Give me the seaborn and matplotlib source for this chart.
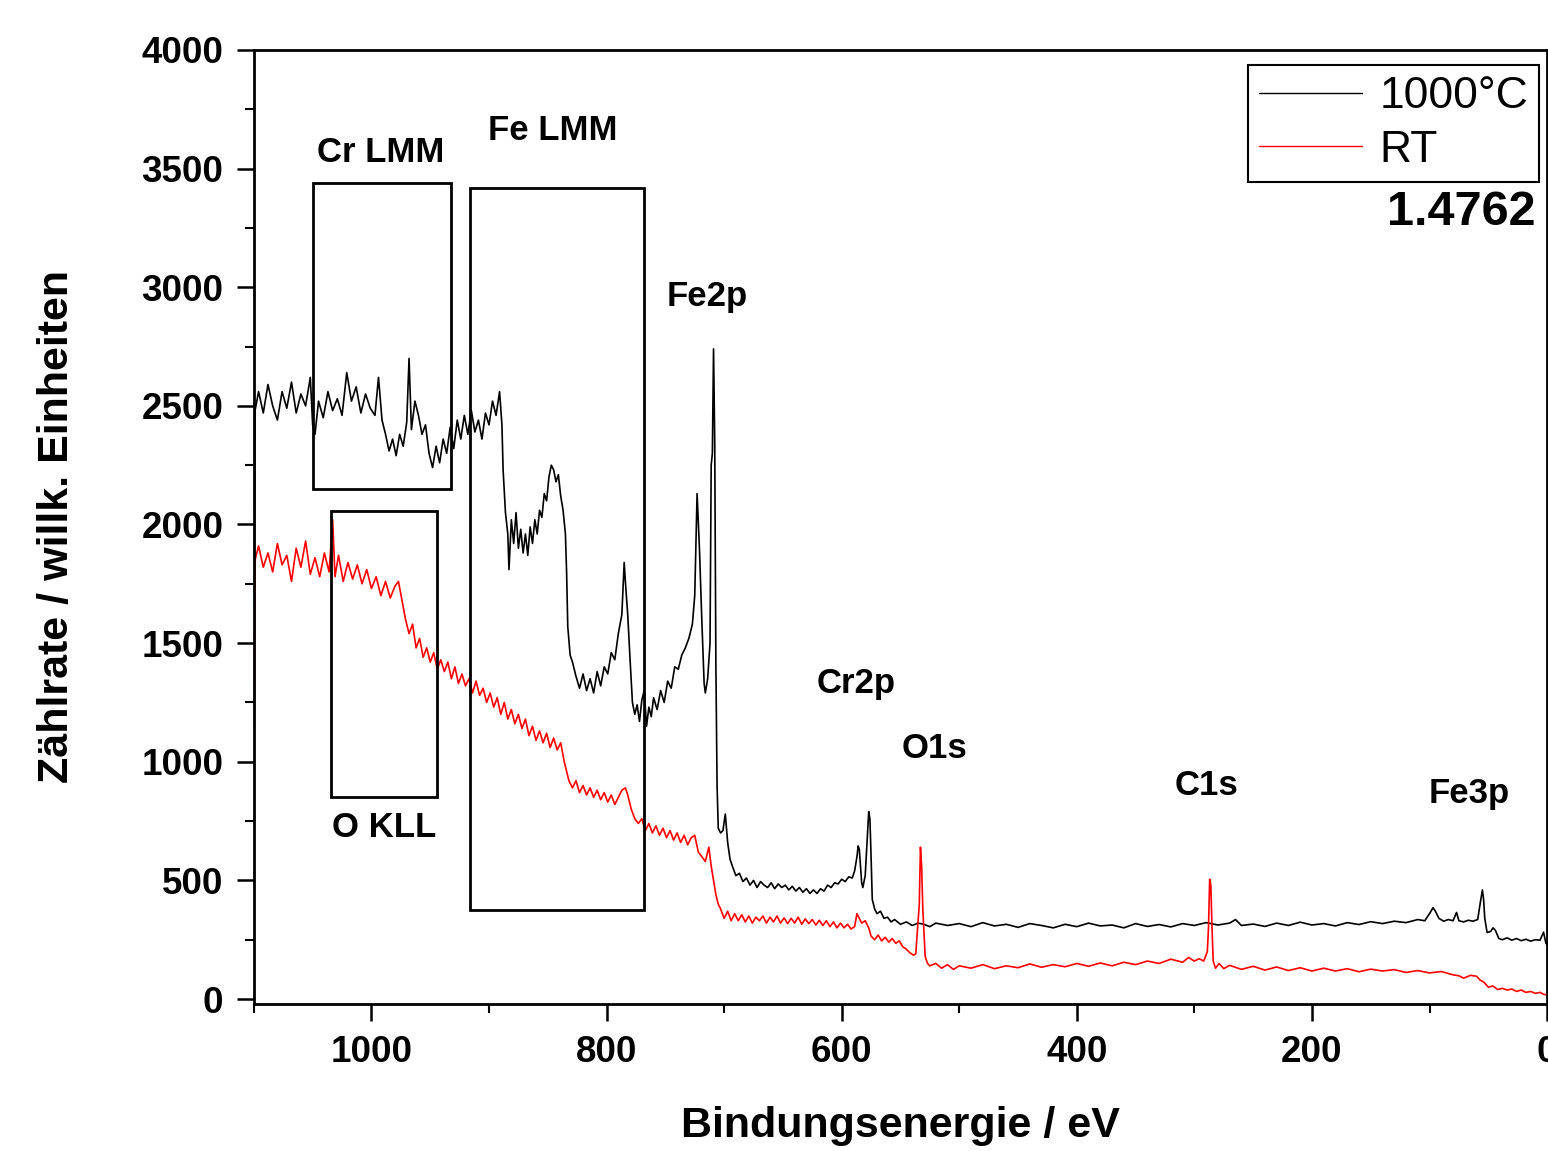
import matplotlib
matplotlib.use("Agg")
import matplotlib.pyplot as plt
from matplotlib.patches import Rectangle
from matplotlib.ticker import MultipleLocator
import pandas as pd
import seaborn as sns

# XPS survey spectra
energy_1000c = [
    1100, 1099, 1096, 1092, 1088, 1084, 1080, 1076, 1072, 1068,
    1064, 1060, 1056, 1052, 1050, 1048, 1045, 1041, 1037, 1033,
    1029, 1025, 1021, 1017, 1013, 1009, 1005, 1001, 997, 994,
    991, 988, 985, 982, 979, 976, 973, 970, 968, 966,
    963, 960, 957, 954, 951, 948, 945, 942, 939, 936,
    933, 930, 927, 924, 921, 918, 915, 912, 909, 906,
    903, 900, 897, 894, 891, 889, 888, 886, 884, 883,
    881, 879, 877, 875, 873, 871, 869, 867, 865, 863,
    861, 859, 857, 855, 853, 851, 849, 847, 845, 843,
    841, 839, 837, 835, 834, 833, 831, 829, 826, 823,
    820, 817, 814, 811, 808, 805, 802, 799, 796, 793,
    790, 787, 785, 784, 782, 780, 778, 776, 774, 772,
    770, 768, 766, 764, 762, 760, 757, 754, 751, 748,
    745, 742, 739, 736, 733, 730, 727, 725, 723, 721,
    719, 717, 716, 714, 712, 711, 710, 709, 708, 707,
    706, 705, 703, 701, 699, 697, 695, 693, 690, 687,
    684, 681, 678, 675, 672, 669, 666, 663, 660, 657,
    654, 651, 648, 645, 642, 639, 636, 633, 630, 627,
    624, 621, 618, 615, 612, 609, 606, 603, 600, 597,
    594, 591, 589, 587, 586, 585, 583, 582, 580, 578,
    577, 576, 575, 574, 572, 570, 567, 564, 561, 558,
    555, 550, 545, 540, 535, 530, 525, 520, 510, 500,
    490, 480, 470, 460, 450, 440, 430, 420, 410, 400,
    390, 380, 370, 360, 350, 340, 330, 320, 310, 300,
    290, 280, 270, 265, 260, 250, 240, 230, 220, 210,
    200, 190, 180, 170, 160, 150, 140, 130, 120, 110,
    104, 100, 97, 95, 92, 88, 84, 80, 77, 75,
    71, 67, 63, 59, 57, 55, 54, 53, 51, 48,
    46, 44, 41, 38, 34, 30, 26, 22, 18, 14,
    10, 6, 3, 1, 0,
]
counts_1000c = [
    1370, 2480, 2560, 2470, 2590, 2500, 2440, 2560, 2490, 2600,
    2470, 2550, 2500, 2620, 2420, 2380, 2520, 2450, 2560, 2480,
    2530, 2460, 2640, 2520, 2580, 2470, 2550, 2490, 2460, 2620,
    2440, 2380, 2310, 2360, 2290, 2380, 2330, 2430, 2700, 2400,
    2520, 2460, 2380, 2420, 2300, 2240, 2330, 2260, 2360, 2300,
    2410, 2320, 2440, 2360, 2460, 2380, 2480, 2390, 2440, 2360,
    2470, 2420, 2520, 2460, 2560, 2420, 2230, 2050, 1960, 1810,
    2020, 1920, 2050, 1900, 1980, 1880, 1960, 1870, 1990, 1920,
    2020, 1960, 2060, 2030, 2130, 2100, 2200, 2250, 2230, 2180,
    2210, 2120, 2060, 1960, 1800, 1570, 1450, 1420, 1360, 1310,
    1370, 1300, 1350, 1290, 1380, 1320, 1400, 1370, 1460, 1430,
    1540, 1620, 1840, 1760, 1620, 1430, 1250, 1200, 1240, 1170,
    1260, 1300, 1150, 1230, 1190, 1270, 1220, 1300, 1250, 1340,
    1310, 1400, 1390, 1450, 1480, 1520, 1580, 1700, 2130, 1900,
    1600, 1330, 1290, 1350, 1500, 2250, 2300, 2740, 2350, 1400,
    900, 720, 700, 710, 780, 660, 590, 560, 520, 530,
    495, 510, 480, 500, 470, 495, 480, 470, 490, 465,
    485, 470, 480, 460, 475, 455, 470, 450, 465, 445,
    460, 445, 465, 455, 480, 470, 490, 485, 505, 495,
    515, 510, 540, 600, 645, 630, 490, 470, 520, 700,
    790, 760, 600, 420, 380, 360, 370, 340, 345, 325,
    335, 315, 325, 310, 320, 315, 305, 320, 310, 318,
    305, 322, 308, 315, 302, 318, 310, 300, 315, 305,
    320, 308, 312, 300, 318, 306, 314, 304, 318, 310,
    322, 312, 320, 335, 310, 316, 306, 320, 310, 324,
    312, 318, 308, 322, 314, 326, 318, 328, 322, 335,
    330, 360, 385, 370, 340, 328, 335, 330, 365, 330,
    325, 332, 328, 335, 400, 460, 420, 340, 280, 285,
    300, 290, 255, 250, 258, 248, 255, 246, 252, 244,
    250, 248, 282, 235, 228,
]

energy_rt = [
    1100, 1099, 1096, 1092, 1088, 1084, 1080, 1076, 1072, 1068,
    1064, 1060, 1056, 1052, 1048, 1044, 1040, 1036, 1033, 1031,
    1028, 1024, 1020, 1016, 1012, 1008, 1004, 1000, 996, 992,
    988, 984, 980, 977, 974, 971, 968, 965, 962, 959,
    956, 953, 950, 947, 944, 941, 938, 935, 932, 929,
    926, 923, 920, 917, 914, 911, 908, 905, 902, 899,
    896, 893, 890, 887, 884, 881, 878, 875, 872, 869,
    866, 863, 860, 857, 854, 851, 848, 845, 842, 839,
    836, 834, 832, 829, 826, 823, 820, 817, 814, 811,
    808, 805, 802, 799, 796, 793, 790, 787, 784, 782,
    779, 776, 773, 770, 767, 764, 761, 758, 755, 752,
    749, 746, 743, 740, 737, 734, 731, 728, 725, 722,
    719, 716, 713, 711, 709, 707, 705, 703, 700, 697,
    694, 691, 688, 685, 682, 679, 676, 673, 670, 667,
    664, 661, 658, 655, 652, 649, 646, 643, 640, 637,
    634, 631, 628, 625, 622, 619, 616, 613, 610, 607,
    604, 601, 598, 595, 592, 589, 587, 585, 583, 580,
    577, 575, 572, 569, 566, 563, 560, 557, 554, 551,
    548, 545, 542, 539, 537, 534, 533, 532, 531, 529,
    527, 525, 520, 515, 510, 505, 500, 490, 480, 470,
    460, 450, 440, 430, 420, 410, 400, 390, 380, 370,
    360, 350, 340, 330, 320, 310, 305, 300, 296, 292,
    289, 288, 287, 286, 285, 284, 282, 279, 275, 270,
    260, 250, 240, 230, 220, 210, 200, 190, 180, 170,
    160, 150, 140, 130, 120, 110, 100, 90, 80, 75,
    71, 65, 60, 57, 54, 50, 46, 42, 38, 34,
    30, 26, 22, 18, 14, 10, 6, 3, 0,
]
counts_rt = [
    880, 1850, 1910, 1820, 1880, 1800, 1920, 1830, 1870, 1760,
    1900, 1820, 1930, 1790, 1860, 1780, 1880, 1800, 2020, 1780,
    1870, 1760, 1840, 1770, 1830, 1750, 1810, 1730, 1780, 1700,
    1760, 1690, 1740, 1760, 1680, 1600, 1540, 1580, 1480, 1520,
    1440, 1480, 1420, 1460, 1390, 1430, 1380, 1420, 1350, 1400,
    1330, 1370, 1320, 1350, 1290, 1340, 1280, 1310, 1250, 1290,
    1230, 1270, 1200, 1250, 1180, 1220, 1160, 1200, 1140, 1180,
    1110, 1150, 1090, 1130, 1080, 1120, 1060, 1100, 1050, 1080,
    1000, 960, 920, 890, 920, 870, 900, 860, 890, 850,
    880, 840, 870, 830, 860, 820, 850, 880, 890, 860,
    800, 760, 740, 760, 710, 740, 700, 730, 690, 720,
    680, 710, 670, 700, 660, 690, 650, 680, 690, 620,
    600, 580, 640, 560, 500, 440, 400, 380, 340, 370,
    330, 360, 330, 355, 325, 350, 320, 345, 330, 350,
    320, 345, 325, 350, 320, 342, 318, 340, 320, 345,
    315, 338, 318, 335, 312, 332, 310, 330, 305, 325,
    300, 320, 300, 315, 295, 305, 360, 340, 320, 330,
    300, 265, 250, 270, 245, 260, 240, 255, 235, 245,
    220, 210, 195, 185, 190, 400, 640, 560, 380, 180,
    150, 140, 150, 130, 145, 125, 140, 130, 145, 128,
    140, 132, 148, 134, 145, 136, 150, 138, 152, 140,
    155, 145, 160, 150, 168, 155, 175, 160, 170, 160,
    200, 300, 505, 480, 300, 160, 130, 150, 128, 142,
    125, 138, 122, 135, 120, 132, 118, 130, 118, 128,
    115, 126, 118, 124, 112, 120, 110, 116, 102, 98,
    88, 100, 96, 80, 72, 50, 55, 40, 45, 38,
    42, 32, 38, 28, 32, 24, 28, 20, 17,
]

series_names = ["1000°C", "RT"]
series_colors = ["black", "red"]

# peak labels: (text, energy, counts)
peak_labels = ["Cr LMM", "Fe LMM", "Fe2p", "Cr2p", "O1s", "C1s", "Fe3p", "O KLL"]
label_energy = [992, 846, 714, 588, 521, 290, 66, 989]
label_counts = [3566, 3659, 2963, 1328, 1058, 902, 868, 721]

# boxes around Auger regions
box_e_low = [932, 768, 944]
box_e_high = [1050, 916, 1034]
box_c_low = [2150, 375, 851]
box_c_high = [3440, 3418, 2057]

df = pd.concat([
    pd.DataFrame({"E": energy_1000c, "I": counts_1000c, "Probe": series_names[0]}),
    pd.DataFrame({"E": energy_rt, "I": counts_rt, "Probe": series_names[1]}),
])

sns.set_style("ticks")
plt.rcParams["font.family"] = ["Liberation Sans", "DejaVu Sans"]
plt.rcParams["text.color"] = "black"
plt.rcParams["axes.labelcolor"] = "black"
plt.rcParams["xtick.color"] = "black"
plt.rcParams["ytick.color"] = "black"

fig = plt.figure(figsize=(15.48, 11.51), dpi=100)
ax = fig.add_axes([0.164, 0.1277, 0.8354, 0.8289])

sns.lineplot(data=df, x="E", y="I", hue="Probe", hue_order=series_names,
             palette=dict(zip(series_names, series_colors)),
             estimator=None, sort=False, linewidth=1.2, ax=ax)

for el, eh, cl, ch in zip(box_e_low, box_e_high, box_c_low, box_c_high):
    ax.add_patch(Rectangle((el, cl), eh - el, ch - cl, fill=False,
                           edgecolor="black", linewidth=2.0, zorder=3))

for txt, e, c in zip(peak_labels, label_energy, label_counts):
    ax.text(e, c, txt, ha="center", va="center", fontsize=25,
            fontweight="bold", color="black")

ax.text(0.991, 0.830, "1.4762", transform=ax.transAxes, ha="right",
        va="center", fontsize=35, fontweight="bold")

ax.set_xlim(1100, 0)
ax.set_ylim(-21, 4000)
ax.xaxis.set_major_locator(MultipleLocator(200))
ax.xaxis.set_minor_locator(MultipleLocator(100))
ax.yaxis.set_major_locator(MultipleLocator(500))
ax.yaxis.set_minor_locator(MultipleLocator(250))
ax.tick_params(which="major", direction="out", length=12, width=1.8,
               labelsize=26.5, pad=10)
ax.tick_params(which="minor", direction="out", length=6.5, width=1.5)
for lab in ax.get_xticklabels() + ax.get_yticklabels():
    lab.set_fontweight("bold")

for sp in ax.spines.values():
    sp.set_color("black")
    sp.set_linewidth(2.0)

ax.set_xlabel("Bindungsenergie / eV", fontsize=31, fontweight="bold", labelpad=26)
ax.set_ylabel("Zählrate / willk. Einheiten", fontsize=31, fontweight="bold", labelpad=46)

leg = ax.legend(loc="upper right", bbox_to_anchor=(0.994, 0.984), fontsize=32,
                frameon=True, fancybox=False, edgecolor="black", framealpha=1,
                handlelength=2.3, handletextpad=0.4, borderpad=0.25,
                labelspacing=0.28, borderaxespad=0)
leg.get_frame().set_linewidth(1.5)
for line in leg.get_lines():
    line.set_linewidth(1.0)

fig.savefig("out.png", dpi=100)
